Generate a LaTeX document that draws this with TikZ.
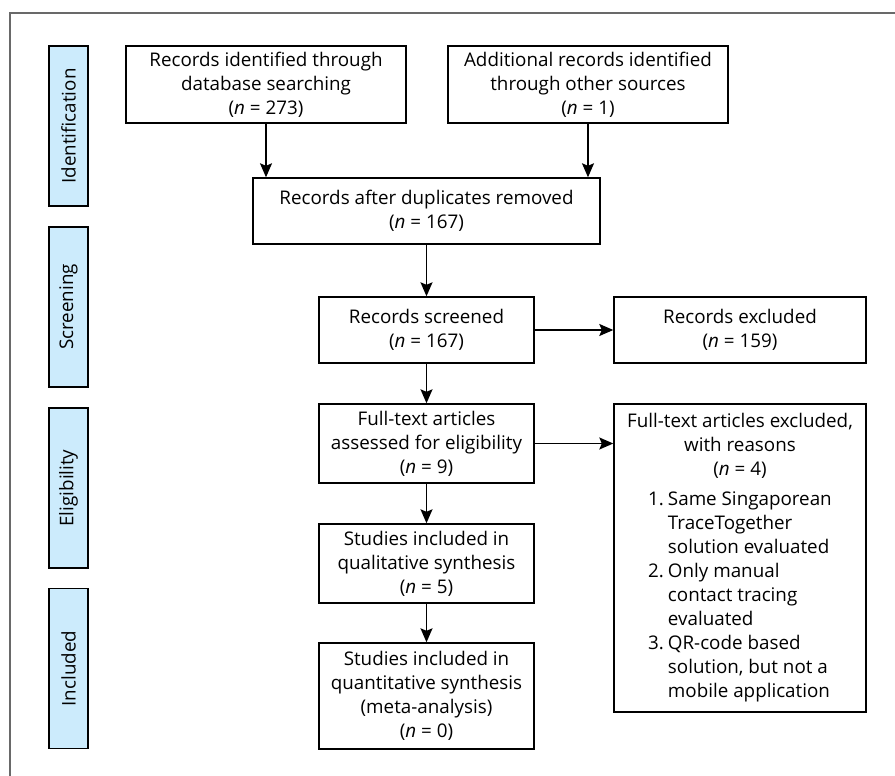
\documentclass[tikz,border=0pt]{standalone}
\usepackage{fontspec}
\setmainfont{Open Sans}
\usetikzlibrary{arrows.meta}
\definecolor{lblblue}{RGB}{204,235,252}
\definecolor{framegray}{RGB}{105,105,105}
\begin{document}
\begin{tikzpicture}[x=1pt,y=-1pt,
  every node/.style={font=\fontsize{18.8}{24}\selectfont},
  box/.style={draw=black,line width=1.4pt,fill=white,align=center,inner sep=0pt},
  phase/.style={draw=black,line width=1.4pt,fill=lblblue,minimum width=39pt,minimum height=160pt,inner sep=0pt},
  arr/.style={line width=1.4pt,-{Stealth[length=14pt,width=12pt,inset=2.5pt]}}]
\useasboundingbox (0,0) rectangle (895,776);
\draw[framegray,line width=1.2pt] (10,780) -- (10,13) -- (900,13);
% phase labels
\node[phase] (p1) at (68.5,126) {};
\node[rotate=90] (t1) at (p1.center) {Identification};
\node[phase] (p2) at (68.5,307) {};
\node[rotate=90] (t2) at (p2.center) {Screening};
\node[phase] (p3) at (68.5,488) {};
\node[rotate=90] (t3) at (p3.center) {Eligibility};
\node[phase] (p4) at (68.5,668.5) {};
\node[rotate=90] (t4) at (p4.center) {Included};
% boxes
\node[box,minimum width=280pt,minimum height=77pt] (A) at (266,84.5) {Records identified through\\database searching\\(\textit{n} = 273)};
\node[box,minimum width=280pt,minimum height=77pt] (B) at (588,84.5) {Additional records identified\\through other sources\\(\textit{n} = 1)};
\node[box,minimum width=347pt,minimum height=66pt] (C) at (426.5,211) {Records after duplicates removed\\(\textit{n} = 167)};
\node[box,minimum width=215pt,minimum height=66pt] (D) at (426.5,330) {Records screened\\(\textit{n} = 167)};
\node[box,minimum width=252pt,minimum height=66pt] (E) at (740,330) {Records excluded\\(\textit{n} = 159)};
\node[box,minimum width=215pt,minimum height=79pt] (F) at (426.5,443.5) {Full-text articles\\assessed for eligibility\\(\textit{n} = 9)};
\node[box,minimum width=252pt,minimum height=308pt] (G) at (740,558) {%
\begin{tabular}{@{}c@{}}Full-text articles excluded,\\with reasons\\(\textit{n} = 4)\end{tabular}\\[5pt]%
\begin{tabular}{@{}r@{\hspace{4pt}}l@{}}
1.& Same Singaporean\\
  & TraceTogether\\
  & solution evaluated\\
2.& Only manual\\
  & contact tracing\\
  & evaluated\\
3.& QR-code based\\
  & solution, but not a\\
  & mobile application
\end{tabular}};
\node[box,minimum width=215pt,minimum height=79pt] (H) at (426.5,563.5) {Studies included in\\qualitative synthesis\\(\textit{n} = 5)};
\node[box,minimum width=215pt,minimum height=106pt] (I) at (426.5,696) {Studies included in\\quantitative synthesis\\(meta-analysis)\\(\textit{n} = 0)};
% arrows
\draw[arr] (A.south) -- (A.south |- C.north);
\draw[arr] (B.south) -- (B.south |- C.north);
\draw[arr] (C.south) -- (D.north);
\draw[arr] (D.east) -- (E.west);
\draw[arr] (D.south) -- (F.north);
\draw[arr] (F.east) -- (F.east -| G.west);
\draw[arr] (F.south) -- (H.north);
\draw[arr] (H.south) -- (I.north);
\end{tikzpicture}
\end{document}
